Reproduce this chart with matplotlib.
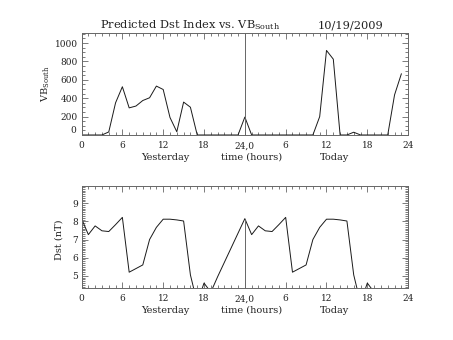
"""Predicted Dst index and southward VB over the last two days."""
import matplotlib
matplotlib.use("Agg")
import matplotlib.pyplot as plt
import matplotlib.transforms as mtransforms
from matplotlib.ticker import FixedLocator, MultipleLocator, FuncFormatter

plt.rcParams["font.family"] = ["DejaVu Serif"]
plt.rcParams["mathtext.fontset"] = "dejavuserif"

# hourly samples, yesterday 0..23 followed by today 0..23
hours = list(range(48))
vb_south = [0, 0, 0, 0, 33, 350, 525, 295, 315, 375, 405, 532, 495, 190, 35,
            358, 302, 0, 0, 0, 0, 0, 0, 0,
            195, 0, 0, 0, 0, 0, 0, 0, 0, 0, 0, 200, 920, 825, 0, 0, 30,
            0, 0, 0, 0, 0, 436, 665]

dst_yesterday = [8.15, 7.27, 7.75, 7.48, 7.44, 7.82, 8.22, 5.20, 5.40, 5.60,
                 7.00, 7.67, 8.12, 8.12, 8.08, 8.02, 5.05, 3.50, 4.60, 4.10,
                 4.95, 5.75, 6.55, 7.35]
dst_today = [8.15, 7.27, 7.75, 7.48, 7.44, 7.82, 8.22, 5.20, 5.40, 5.60,
             7.00, 7.67, 8.12, 8.12, 8.08, 8.02, 5.05, 3.50, 4.60, 4.10]
dst = dst_yesterday + dst_today

xticks = [0, 6, 12, 18, 24, 30, 36, 42, 48]
xtick_labels = ["0", "6", "12", "18", "24,0", "6", "12", "18", "24"]
day_labels = [(12.3, "Yesterday"), (25.0, "time (hours)"), (37.2, "Today")]

TXT = "#222222"
AX = "#666666"

fig = plt.figure(figsize=(4.53, 3.4), dpi=100)
fig.patch.set_facecolor("white")
ax1 = fig.add_axes([0.180, 0.603, 0.721, 0.300])
ax2 = fig.add_axes([0.180, 0.153, 0.721, 0.300])

for ax in (ax1, ax2):
    ax.set_xlim(0, 48)
    ax.xaxis.set_major_locator(FixedLocator(xticks))
    ax.set_xticklabels(xtick_labels)
    ax.xaxis.set_minor_locator(MultipleLocator(1))
    ax.tick_params(which="both", direction="in", top=True, right=True,
                   colors=AX, labelcolor=TXT, labelsize=6.5, width=0.6)
    ax.tick_params(which="major", length=4)
    ax.tick_params(which="minor", length=2)
    ax.tick_params(axis="x", pad=4.5)
    ax.tick_params(axis="y", pad=2.8)
    for sp in ax.spines.values():
        sp.set_color(AX)
        sp.set_linewidth(0.7)
    for x, s in day_labels:
        ax.text(x, -0.243, s, transform=ax.get_xaxis_transform(),
                ha="center", va="baseline", fontsize=7, color=TXT)

# top: VB south
ax1.plot(hours, vb_south, color="#1a1a1a", linewidth=0.7)
ax1.set_ylim(0, 1110)
ax1.yaxis.set_major_locator(MultipleLocator(200))
ax1.yaxis.set_minor_locator(MultipleLocator(50))
# the zero label sits a little above the x axis, drawn separately
ax1.yaxis.set_major_formatter(FuncFormatter(lambda v, p: "" if v == 0 else f"{v:.0f}"))
zero_shift = mtransforms.ScaledTranslation(-3.9 / 72, 3.5 / 72, fig.dpi_scale_trans)
ax1.text(0, 0, "0", transform=ax1.get_yaxis_transform() + zero_shift,
         ha="right", va="center", fontsize=6.5, color=TXT)
ax1.axvline(24, color=AX, linewidth=0.7)
ax1.set_ylabel(r"VB$_{\mathrm{South}}$", fontsize=7, color=TXT)
ax1.yaxis.set_label_coords(-0.09, 0.5)

# bottom: Dst
ax2.plot(hours[:len(dst)], dst, color="#1a1a1a", linewidth=0.7)
ax2.set_ylim(4.33, 9.95)
ax2.yaxis.set_major_locator(MultipleLocator(1))
ax2.yaxis.set_minor_locator(MultipleLocator(0.1))
ax2.vlines(24, 4.33, dst[24], color=AX, linewidth=0.7)
ax2.set_ylabel("Dst (nT)", fontsize=7, color=TXT)
ax2.yaxis.set_label_coords(-0.055, 0.47)

fig.text(0.2208, 0.9176, r"Predicted Dst Index vs. VB$_{\mathrm{South}}$",
         ha="left", va="baseline", fontsize=8.2, color=TXT)
fig.text(0.8455, 0.9176, "10/19/2009", ha="right", va="baseline",
         fontsize=8.2, color=TXT)

fig.savefig("out.png", dpi=100, facecolor="white")
